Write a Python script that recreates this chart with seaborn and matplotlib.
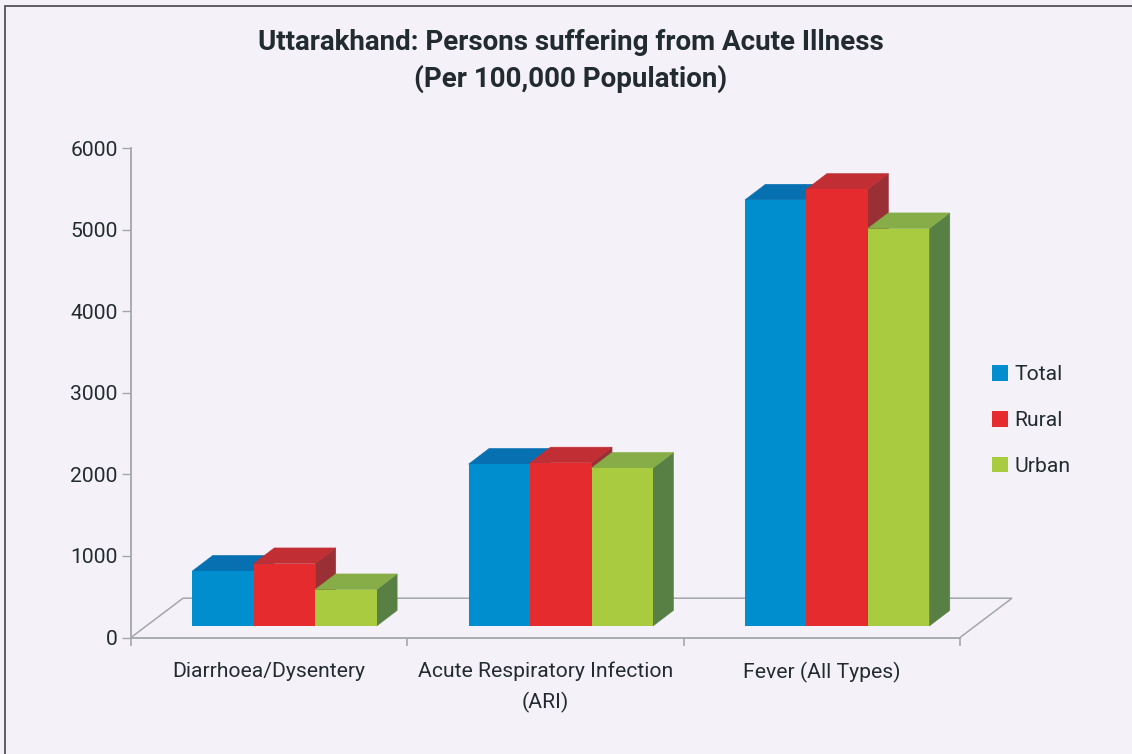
import matplotlib
matplotlib.use("Agg")
import matplotlib.pyplot as plt
from matplotlib.lines import Line2D
from matplotlib.patches import Polygon
import pandas as pd
import seaborn as sns

categories = ["Diarrhoea/Dysentery", "Acute Respiratory Infection\n(ARI)", "Fever (All Types)"]
series_names = ["Total", "Rural", "Urban"]
total_values = [674, 1986, 5226]
rural_values = [766, 2002, 5357]
urban_values = [447, 1937, 4875]
y_ticks = [0, 1000, 2000, 3000, 4000, 5000, 6000]

front_colors = ["#008ecf", "#e52b2d", "#a9cb40"]
top_colors = ["#0670b0", "#c12f35", "#86ad48"]
side_colors = ["#0670b0", "#9a3035", "#588045"]
bg = "#f4f2f8"
axis_grey = "#a3a7ab"
text_col = "#222c30"

sns.set_style("white")
plt.rcParams['font.family'] = ['Roboto', 'Liberation Sans']

W, H = 1132, 754
left, right, y_zero, y_top = 131, 960, 637.5, 148.3

df = pd.DataFrame({
    "category": categories * 3,
    "series": [s for s in series_names for _ in categories],
    "value": total_values + rural_values + urban_values,
})

fig = plt.figure(figsize=(W / 100, H / 100), dpi=100, facecolor=bg)
ax = fig.add_axes([left / W, 1 - y_zero / H, (right - left) / W, (y_zero - y_top) / H])
ax.set_facecolor("none")

sns.barplot(data=df, x="category", y="value", hue="series", order=categories,
            hue_order=series_names, palette=front_colors, saturation=1,
            width=0.667, gap=0, linewidth=0, ax=ax)
ax.set_xlim(-0.5, 2.5)
ax.set_ylim(0, 6000)

# pixel sizes of the fake 3d look, turned into data units
px_x = 3 / (right - left)
px_y = 6000 / (y_zero - y_top)
shift = 15.3 * px_x
floor = 11.5 * px_y
dx, dy = 20.5 * px_x, 15.6 * px_y

# floor outline
fdx, fdy = 52 * px_x, 39.3 * px_y
ax.add_patch(Polygon([(-0.5, 0), (-0.5 + fdx, fdy), (2.5 + fdx, fdy), (2.5, 0)], closed=False,
                     fill=False, edgecolor=axis_grey, linewidth=1.1, clip_on=False, zorder=1))

for i, cont in enumerate(ax.containers):
    z = 3 + i
    for bar in cont:
        bar.set_x(bar.get_x() + shift)
        bar.set_y(floor)
        bar.set_zorder(z + 0.2)
        x0 = bar.get_x()
        x1 = x0 + bar.get_width()
        y0 = floor
        y1 = floor + bar.get_height()
        ax.add_patch(Polygon([(x1, y0), (x1 + dx, y0 + dy), (x1 + dx, y1 + dy), (x1, y1)],
                             facecolor=side_colors[i], edgecolor=side_colors[i], linewidth=0.4,
                             clip_on=False, zorder=z))
        ax.add_patch(Polygon([(x0, y1), (x0 + dx, y1 + dy), (x1 + dx, y1 + dy), (x1, y1)],
                             facecolor=top_colors[i], edgecolor=top_colors[i], linewidth=0.4,
                             clip_on=False, zorder=z + 0.1))

for s in ["top", "right"]:
    ax.spines[s].set_visible(False)
for s in ["left", "bottom"]:
    ax.spines[s].set_color(axis_grey)
    ax.spines[s].set_linewidth(1.3)

ax.set_xlabel("")
ax.set_ylabel("")
ax.set_yticks(y_ticks)
ax.set_xticks(range(len(categories)))
ax.set_xticklabels(categories, linespacing=1.65)
ax.set_xticks([-0.5, 0.5, 1.5, 2.5], minor=True)
ax.tick_params(axis="y", which="major", left=True, length=6.5, width=1, color=axis_grey,
               labelsize=15.2, labelcolor=text_col, pad=3)
ax.tick_params(axis="x", which="major", bottom=False, labelsize=15.2, labelcolor=text_col, pad=14)
ax.tick_params(axis="x", which="minor", bottom=True, length=6, width=1.2, color=axis_grey)

sns.move_legend(ax, loc="center left", bbox_to_anchor=(992 / W, 1 - 420.5 / H),
                bbox_transform=fig.transFigure, frameon=False, title=None, fontsize=15.2,
                handlelength=0.76, handleheight=0.76, handletextpad=0.3, labelspacing=1.26,
                borderpad=0, borderaxespad=0, labelcolor=text_col)

fig.text(571 / W, 1 - 39 / H, "Uttarakhand: Persons suffering from Acute Illness", ha="center",
         va="center_baseline", fontsize=20, fontweight="bold", color=text_col)
fig.text(571 / W, 1 - 75.5 / H, "(Per 100,000 Population)", ha="center", va="center_baseline",
         fontsize=20, fontweight="bold", color=text_col)

# page frame on the top and left
frame_col = "#5f5f63"
fig.add_artist(Line2D([5 / W, 5 / W], [0, 1 - 5.5 / H], color=frame_col, linewidth=1.4))
fig.add_artist(Line2D([5 / W, 1], [1 - 5.5 / H, 1 - 5.5 / H], color=frame_col, linewidth=1.4))

fig.savefig("out.png", dpi=100, facecolor=bg)
